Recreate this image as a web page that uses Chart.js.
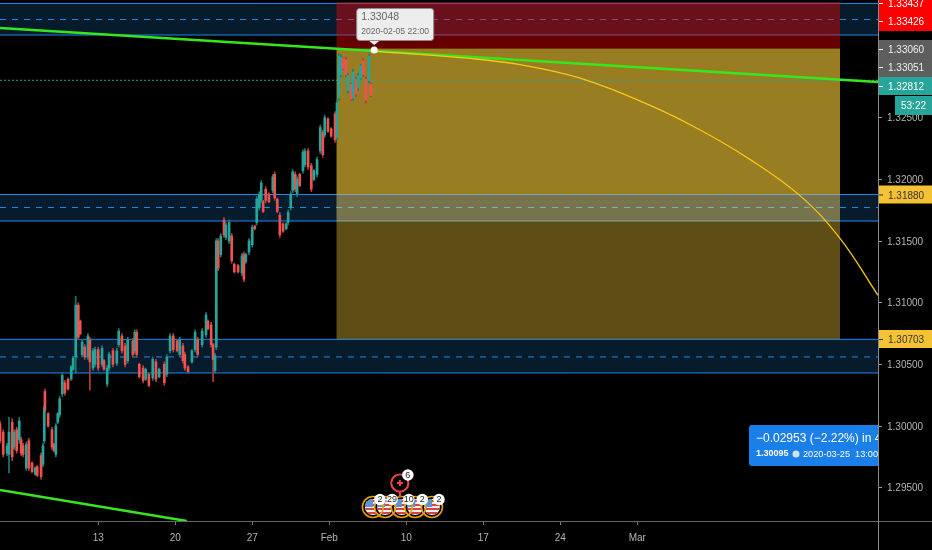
<!DOCTYPE html>
<html>
<head>
<meta charset="utf-8">
<title>GBPUSD idea</title>
<script src="https://cdn.jsdelivr.net/npm/chart.js@4/dist/chart.umd.min.js"></script>
<style>
    html, body { margin: 0; padding: 0; background: #000; overflow: hidden; }
    canvas { display: block; }
</style>
</head>
<body>
<canvas id="priceChart" width="932" height="550"></canvas>
<script>
// time axis is trading hours from the left edge of the picture, 120 hours to a week
const barHours = [
    0,5,11,14,19,22,26,30,33,36,
    41,45,50,55,58,64,67,69,70,75,
    81,84,87,90,93,97,101,106,111,114,
    118,122,125,128,132,137,140,145,148,153,
    159,162,167,170,176,182,185,190,195,199,
    207,210,213,217,223,227,232,238,243,248,
    256,260,265,270,276,280,285,288,293,299,
    304,308,315,321,324,329,332,335,337,340,
    344,349,352,357,361,365,371,377,380,383,
    388,393,397,400,404,407,410,414,419,425,
    428,432,436,441,446,449,453,456,460,463,
    467,472,475,480,485,489,494,499,503,506,
    511,516,522,525,528,531,534,539,542,547,
    550,555,558,562,566,570,575,578
];
const opens = [
    1.3002,1.2995,1.2978,1.2977,1.3003,1.2983,1.2997,1.2989,1.2989,1.2984,
    1.2966,1.2988,1.2970,1.2961,1.2967,1.2976,1.2969,1.2988,1.3028,1.3010,
    1.2997,1.2985,1.2977,1.3003,1.3009,1.3026,1.3035,1.3038,1.3038,1.3046,
    1.3056,1.3098,1.3085,1.3058,1.3064,1.3056,1.3070,1.3047,1.3050,1.3062,
    1.3050,1.3053,1.3034,1.3047,1.3061,1.3051,1.3066,1.3073,1.3065,1.3053,
    1.3069,1.3061,1.3076,1.3050,1.3047,1.3038,1.3042,1.3039,1.3052,1.3040,
    1.3050,1.3042,1.3061,1.3073,1.3069,1.3058,1.3065,1.3058,1.3048,1.3052,
    1.3062,1.3070,1.3066,1.3074,1.3085,1.3082,1.3066,1.3045,1.3064,1.3150,
    1.3139,1.3167,1.3153,1.3150,1.3154,1.3131,1.3130,1.3124,1.3139,1.3133,
    1.3141,1.3147,1.3162,1.3165,1.3177,1.3183,1.3182,1.3192,1.3188,1.3191,
    1.3204,1.3184,1.3171,1.3164,1.3160,1.3165,1.3177,1.3191,1.3204,1.3188,
    1.3204,1.3207,1.3212,1.3223,1.3211,1.3200,1.3204,1.3223,1.3238,1.3236,
    1.3249,1.3241,1.3253,1.3234,1.3266,1.3285,1.3298,1.3297,1.3272,1.3277,
    1.3266,1.3281,1.3274,1.3282,1.3296,1.3281,1.3280,1.3277
];
const highs = [
    1.3004,1.2997,1.2986,1.3007,1.3006,1.2997,1.2999,1.3007,1.2991,1.2986,
    1.2987,1.2990,1.2971,1.2967,1.2968,1.2978,1.2986,1.3017,1.3030,1.3011,
    1.2999,1.2986,1.3002,1.3011,1.3024,1.3043,1.3037,1.3039,1.3049,1.3056,
    1.3105,1.3100,1.3086,1.3070,1.3066,1.3075,1.3072,1.3063,1.3064,1.3064,
    1.3065,1.3054,1.3049,1.3060,1.3063,1.3063,1.3079,1.3075,1.3067,1.3072,
    1.3071,1.3078,1.3078,1.3051,1.3049,1.3047,1.3043,1.3056,1.3054,1.3047,
    1.3052,1.3058,1.3075,1.3075,1.3070,1.3072,1.3067,1.3060,1.3049,1.3062,
    1.3078,1.3072,1.3079,1.3092,1.3086,1.3084,1.3067,1.3059,1.3152,1.3152,
    1.3156,1.3169,1.3165,1.3167,1.3156,1.3132,1.3131,1.3140,1.3141,1.3140,
    1.3152,1.3163,1.3163,1.3186,1.3190,1.3199,1.3183,1.3194,1.3189,1.3204,
    1.3206,1.3185,1.3173,1.3165,1.3165,1.3175,1.3190,1.3208,1.3206,1.3202,
    1.3205,1.3224,1.3225,1.3225,1.3213,1.3208,1.3218,1.3244,1.3240,1.3252,
    1.3250,1.3242,1.3255,1.3264,1.3302,1.3301,1.3299,1.3299,1.3286,1.3278,
    1.3289,1.3283,1.3286,1.3293,1.3298,1.3283,1.3302,1.3278
];
const lows = [
    1.2986,1.2975,1.2976,1.2962,1.2972,1.2981,1.2978,1.2986,1.2976,1.2975,
    1.2964,1.2964,1.2962,1.2960,1.2959,1.2957,1.2967,1.2986,1.3011,1.2999,
    1.2981,1.2979,1.2975,1.3002,1.3007,1.3024,1.3025,1.3029,1.3037,1.3045,
    1.3043,1.3070,1.3074,1.3056,1.3054,1.3054,1.3029,1.3045,1.3048,1.3045,
    1.3048,1.3045,1.3032,1.3045,1.3048,1.3049,1.3064,1.3059,1.3048,1.3051,
    1.3056,1.3059,1.3056,1.3039,1.3035,1.3037,1.3032,1.3037,1.3036,1.3039,
    1.3033,1.3040,1.3059,1.3060,1.3060,1.3056,1.3051,1.3045,1.3043,1.3051,
    1.3060,1.3056,1.3064,1.3072,1.3078,1.3064,1.3036,1.3043,1.3062,1.3126,
    1.3137,1.3153,1.3151,1.3148,1.3132,1.3124,1.3124,1.3122,1.3117,1.3132,
    1.3139,1.3145,1.3159,1.3163,1.3175,1.3181,1.3173,1.3181,1.3181,1.3189,
    1.3183,1.3173,1.3153,1.3157,1.3159,1.3163,1.3175,1.3189,1.3190,1.3186,
    1.3194,1.3205,1.3210,1.3208,1.3190,1.3199,1.3202,1.3221,1.3218,1.3234,
    1.3238,1.3234,1.3230,1.3232,1.3264,1.3283,1.3289,1.3283,1.3270,1.3264,
    1.3264,1.3267,1.3272,1.3281,1.3283,1.3262,1.3278,1.3267
];
const closes = [
    1.2988,1.2977,1.2984,1.2995,1.2975,1.2995,1.2980,1.3004,1.2978,1.2977,
    1.2985,1.2966,1.2963,1.2966,1.2960,1.2959,1.2984,1.3015,1.3013,1.3000,
    1.2983,1.2980,1.3000,1.3010,1.3022,1.3041,1.3027,1.3030,1.3048,1.3055,
    1.3098,1.3072,1.3075,1.3068,1.3056,1.3073,1.3052,1.3061,1.3062,1.3047,
    1.3063,1.3046,1.3047,1.3058,1.3050,1.3061,1.3077,1.3061,1.3050,1.3070,
    1.3058,1.3076,1.3058,1.3040,1.3037,1.3046,1.3033,1.3054,1.3038,1.3046,
    1.3035,1.3056,1.3073,1.3062,1.3061,1.3070,1.3053,1.3047,1.3044,1.3061,
    1.3076,1.3058,1.3077,1.3090,1.3079,1.3066,1.3054,1.3057,1.3150,1.3128,
    1.3154,1.3155,1.3163,1.3165,1.3134,1.3125,1.3125,1.3138,1.3119,1.3139,
    1.3150,1.3161,1.3160,1.3184,1.3188,1.3197,1.3174,1.3183,1.3182,1.3202,
    1.3185,1.3174,1.3155,1.3158,1.3164,1.3173,1.3188,1.3206,1.3192,1.3200,
    1.3195,1.3222,1.3223,1.3210,1.3192,1.3207,1.3216,1.3242,1.3220,1.3250,
    1.3239,1.3235,1.3232,1.3262,1.3300,1.3299,1.3290,1.3285,1.3284,1.3265,
    1.3287,1.3269,1.3284,1.3292,1.3285,1.3264,1.3300,1.3268
];

const xTickHours = [153, 273, 393, 513, 633, 753, 873, 993];
const xTickLabels = ['13', '20', '27', 'Feb', '10', '17', '24', 'Mar'];
const yTickValues = [1.295, 1.30, 1.305, 1.31, 1.315, 1.32, 1.325];

// blue support and resistance zones
const zoneTops = [1.33426, 1.31877, 1.30703];
const zoneBottoms = [1.3317, 1.31662, 1.3043];
const zoneMiddles = [1.33296, 1.31772, 1.3056];

// position tool boxes
const positionStart = 524;
const positionEnd = 1309;
const stopTop = 1.33437;
const entryLevel = 1.3306;
const targetOne = 1.3188;
const targetTwo = 1.30703;
const overlapTop = 1.31877;
const overlapBottom = 1.31662;

const upperTrendHours = [0, 1368];
const upperTrendPrices = [1.33227, 1.32789];
const lowerTrendHours = [0, 291];
const lowerTrendPrices = [1.29481, 1.2923];
const lastPrice = 1.32803;

const curveHours = [583, 732, 810, 904, 1013, 1091, 1169, 1246, 1309, 1368];
const curvePrices = [1.3304, 1.3298, 1.3293, 1.3282, 1.3260, 1.3240, 1.3216, 1.3187, 1.3152, 1.3106];

const pointHour = 583;
const pointPrice = 1.33048;
const pointDate = '2020-02-05 22:00';

const priceTags = ['1.33437', '1.33426', '1.33060', '1.33051', '1.32812', '1.31880', '1.30703'];
const countdownText = '53:22';

const eventHours = [581, 600, 626, 647, 673];
const eventCounts = ['2', '29', '10', '2', '2'];
const newsHour = 623;
const newsCount = '6';

const forecastLine = '\u22120.02953 (\u22122.22%) in 4';
const forecastPrice = '1.30095';
const forecastDate = '2020-03-25  13:00';

const UP = '#26a69a';
const DOWN = '#ef5350';
const UP_WICK = '#157f77';
const DOWN_WICK = '#b53d3b';
const FONT = '"Liberation Sans", Arial, sans-serif';

function pairs(xs, ys) {
    return xs.map((x, i) => ({ x: x, y: ys[i] }));
}

function flatLine(value, style) {
    return Object.assign({
        type: 'line',
        data: pairs([0, 1368], [value, value]),
        pointRadius: 0,
        borderWidth: 1,
        fill: false
    }, style);
}

function box(from, to, top, bottom, color, order) {
    return {
        type: 'line',
        data: pairs([from, to], [top, top]),
        pointRadius: 0,
        borderWidth: 0,
        backgroundColor: color,
        fill: { value: bottom },
        order: order
    };
}

const datasets = [];

zoneTops.forEach((top, i) => {
    datasets.push(flatLine(top, { borderColor: '#1e88e5', backgroundColor: 'rgba(33, 150, 243, 0.18)', fill: { value: zoneBottoms[i] }, order: 50 }));
    datasets.push(flatLine(zoneBottoms[i], { borderColor: '#1e88e5', order: 50 }));
    datasets.push(flatLine(zoneMiddles[i], { borderColor: '#1e88e5', borderDash: [6, 6], order: 50 }));
});

datasets.push(box(positionStart, positionEnd, stopTop, entryLevel, 'rgba(255, 0, 0, 0.4)', 40));
datasets.push(box(positionStart, positionEnd, entryLevel, targetOne, 'rgba(255, 208, 57, 0.6)', 40));
datasets.push(box(positionStart, positionEnd, targetOne, targetTwo, 'rgba(255, 208, 57, 0.37)', 40));
datasets.push(box(positionStart, positionEnd, overlapTop, overlapBottom, 'rgba(255, 255, 255, 0.14)', 39));

datasets.push({
    type: 'bar',
    data: barHours.map((h, i) => ({ x: h, y: [lows[i], highs[i]] })),
    backgroundColor: barHours.map((h, i) => closes[i] >= opens[i] ? UP_WICK : DOWN_WICK),
    barThickness: 1,
    grouped: false,
    order: 20
});
datasets.push({
    type: 'bar',
    data: barHours.map((h, i) => ({ x: h, y: [opens[i], closes[i]] })),
    backgroundColor: barHours.map((h, i) => closes[i] >= opens[i] ? UP : DOWN),
    barThickness: 2,
    grouped: false,
    order: 19
});

datasets.push(flatLine(lastPrice, { borderColor: UP, borderDash: [2, 2], order: 10 }));
datasets.push({ type: 'line', data: pairs(upperTrendHours, upperTrendPrices), borderColor: '#35e81e', borderWidth: 2.5, pointRadius: 0, order: 9 });
datasets.push({ type: 'line', data: pairs(lowerTrendHours, lowerTrendPrices), borderColor: '#35e81e', borderWidth: 2.5, pointRadius: 0, order: 9 });
datasets.push({ type: 'line', data: pairs(curveHours, curvePrices), borderColor: '#f7c815', borderWidth: 1.3, pointRadius: 0, tension: 0.4, order: 8 });
datasets.push({ type: 'line', data: [{ x: pointHour, y: pointPrice }], pointRadius: 3.5, pointBackgroundColor: '#fff', pointBorderWidth: 0, showLine: false, order: 1 });

function roundBox(ctx, x, y, w, h, r) {
    ctx.beginPath();
    ctx.roundRect(x, y, w, h, r);
}

// things TradingView paints on top of the plot: price tags, tooltip, forecast label, event icons
const overlayPlugin = {
    id: 'overlay',
    afterDraw(chart) {
        const ctx = chart.ctx;
        const xs = chart.scales.x;
        const ys = chart.scales.y;
        const right = chart.chartArea.right;
        const bottom = chart.chartArea.bottom;
        ctx.save();

        // axis frame
        ctx.fillStyle = '#666';
        ctx.fillRect(0, bottom, 932, 1);
        ctx.fillStyle = '#8a8a8a';
        ctx.fillRect(right, 0, 1, 550);

        // price tags
        const tagCenters = [3, 21, 49, 67, 86, 194.5, 339];
        const tagFills = ['#ff0000', '#ff0000', '#5e5e5e', '#5e5e5e', UP, '#f5c233', '#f5c233'];
        const tagText = ['#fff', '#fff', '#eee', '#eee', '#fff', '#333', '#333'];
        ctx.font = '10px ' + FONT;
        ctx.textBaseline = 'middle';
        ctx.textAlign = 'left';
        ctx.fillStyle = '#ff0000';
        ctx.fillRect(right + 1, 0, 53, 31);
        ctx.fillStyle = '#5e5e5e';
        ctx.fillRect(right + 1, 40, 53, 37);
        priceTags.forEach((text, i) => {
            if (i > 3) {
                ctx.fillStyle = tagFills[i];
                ctx.fillRect(right + 1, tagCenters[i] - 9, 53, 18);
            }
            ctx.fillStyle = tagText[i];
            ctx.fillRect(right + 1, tagCenters[i], 4, 1);
            ctx.fillText(text, 888, tagCenters[i] + 1.5);
        });
        ctx.fillStyle = UP;
        ctx.fillRect(895, 96, 37, 19);
        ctx.fillStyle = '#fff';
        ctx.fillText(countdownText, 901, 106);

        // tooltip above the picked point
        const px = xs.getPixelForValue(pointHour);
        const py = ys.getPixelForValue(pointPrice);
        ctx.fillStyle = '#ededed';
        ctx.strokeStyle = '#8c8c8c';
        ctx.lineWidth = 1;
        roundBox(ctx, px - 17.5, 8.5, 77, 32, 3);
        ctx.fill();
        ctx.stroke();
        ctx.beginPath();
        ctx.moveTo(px - 5, 41);
        ctx.lineTo(px, py - 5);
        ctx.lineTo(px + 5, 41);
        ctx.closePath();
        ctx.fillStyle = '#ededed';
        ctx.fill();
        ctx.fillStyle = '#666';
        ctx.font = '10.5px ' + FONT;
        ctx.fillText(priceTagFormat(pointPrice), px - 13, 17.5);
        ctx.font = '8.6px ' + FONT;
        ctx.fillText(pointDate, px - 13, 31.5);

        // forecast label, cut off by the price axis
        ctx.save();
        ctx.beginPath();
        ctx.rect(749, 425, right - 749, 41);
        ctx.clip();
        ctx.fillStyle = '#1a7fe8';
        roundBox(ctx, 749, 425, 150, 41, 3);
        ctx.fill();
        ctx.fillStyle = '#fff';
        ctx.font = '12px ' + FONT;
        ctx.fillText(forecastLine, 756, 438.5);
        ctx.font = 'bold 9px ' + FONT;
        ctx.fillText(forecastPrice, 756, 454);
        ctx.fillStyle = '#cfe3fb';
        ctx.beginPath();
        ctx.arc(796, 454, 3.5, 0, Math.PI * 2);
        ctx.fill();
        ctx.fillStyle = '#fff';
        ctx.font = '9.2px ' + FONT;
        ctx.fillText(forecastDate, 803, 454);
        ctx.restore();

        // earnings and news icons along the bottom
        const ringY = bottom - 14;
        eventHours.forEach(h => {
            const ex = xs.getPixelForValue(h);
            ctx.fillStyle = '#000';
            ctx.beginPath();
            ctx.arc(ex, ringY, 10.5, 0, Math.PI * 2);
            ctx.fill();
            ctx.save();
            ctx.beginPath();
            ctx.arc(ex, ringY, 8, 0, Math.PI * 2);
            ctx.clip();
            ctx.fillStyle = '#eee';
            ctx.fillRect(ex - 8, ringY - 8, 16, 16);
            ctx.fillStyle = '#d9423f';
            for (let s = 0; s < 4; s++) {
                ctx.fillRect(ex - 8, ringY - 7 + s * 4, 16, 2);
            }
            ctx.fillStyle = '#5b93d6';
            ctx.fillRect(ex - 8, ringY - 8, 8, 8);
            ctx.restore();
        });
        eventHours.forEach(h => {
            ctx.strokeStyle = '#e5a00d';
            ctx.lineWidth = 1.6;
            ctx.beginPath();
            ctx.arc(xs.getPixelForValue(h), ringY, 10.5, 0, Math.PI * 2);
            ctx.stroke();
        });

        const nx = xs.getPixelForValue(newsHour);
        ctx.strokeStyle = '#ef4444';
        ctx.lineWidth = 2.2;
        ctx.beginPath();
        ctx.arc(nx, 483, 8.5, 0, Math.PI * 2);
        ctx.moveTo(nx, 492);
        ctx.lineTo(nx, 497);
        ctx.stroke();
        ctx.fillStyle = '#000';
        ctx.beginPath();
        ctx.arc(nx, 483, 7.4, 0, Math.PI * 2);
        ctx.fill();
        ctx.fillStyle = '#ef4444';
        ctx.fillRect(nx - 3, 482, 6, 2);
        ctx.fillRect(nx - 1, 480, 2, 6);

        ctx.font = '9px ' + FONT;
        ctx.textAlign = 'center';
        const bubble = (bx, by, text) => {
            ctx.fillStyle = '#fff';
            ctx.beginPath();
            ctx.arc(bx, by, 5.8, 0, Math.PI * 2);
            ctx.fill();
            ctx.fillStyle = '#222';
            ctx.fillText(text, bx, by + 0.5);
        };
        bubble(nx + 8, 475, newsCount);
        eventHours.forEach((h, i) => {
            bubble(xs.getPixelForValue(h) + 7, 499.5, eventCounts[i]);
        });

        ctx.restore();
    }
};

function priceTagFormat(v) {
    return v.toFixed(5);
}

new Chart(document.getElementById('priceChart').getContext('2d'), {
    type: 'bar',
    data: { datasets: datasets },
    options: {
        responsive: false,
        animation: false,
        layout: { padding: 0, autoPadding: false },
        scales: {
            x: {
                type: 'linear',
                min: 0,
                max: 1368,
                offset: false,
                afterBuildTicks: axis => { axis.ticks = xTickHours.map(v => ({ value: v })); },
                afterFit: axis => { axis.height = 29; axis.paddingLeft = 0; axis.paddingRight = 0; },
                grid: { offset: false, drawOnChartArea: false, drawTicks: true, tickLength: 4, color: '#777' },
                border: { display: false },
                ticks: {
                    autoSkip: false,
                    maxRotation: 0,
                    padding: 7,
                    color: '#b4b4b4',
                    font: { family: FONT, size: 10 },
                    callback: (val, i) => xTickLabels[i]
                }
            },
            y: {
                position: 'right',
                min: 1.2923,
                max: 1.33454,
                afterBuildTicks: axis => { axis.ticks = yTickValues.map(v => ({ value: v })); },
                afterFit: axis => { axis.width = 54; axis.paddingTop = 0; axis.paddingBottom = 0; },
                grid: { drawOnChartArea: false, drawTicks: true, tickLength: 4, color: '#999' },
                border: { display: false },
                ticks: {
                    padding: 5,
                    labelOffset: 1,
                    color: '#b4b4b4',
                    font: { family: FONT, size: 10 },
                    callback: val => val.toFixed(5)
                }
            }
        },
        plugins: { legend: { display: false }, tooltip: { enabled: false } }
    },
    plugins: [overlayPlugin]
});
</script>
</body>
</html>
